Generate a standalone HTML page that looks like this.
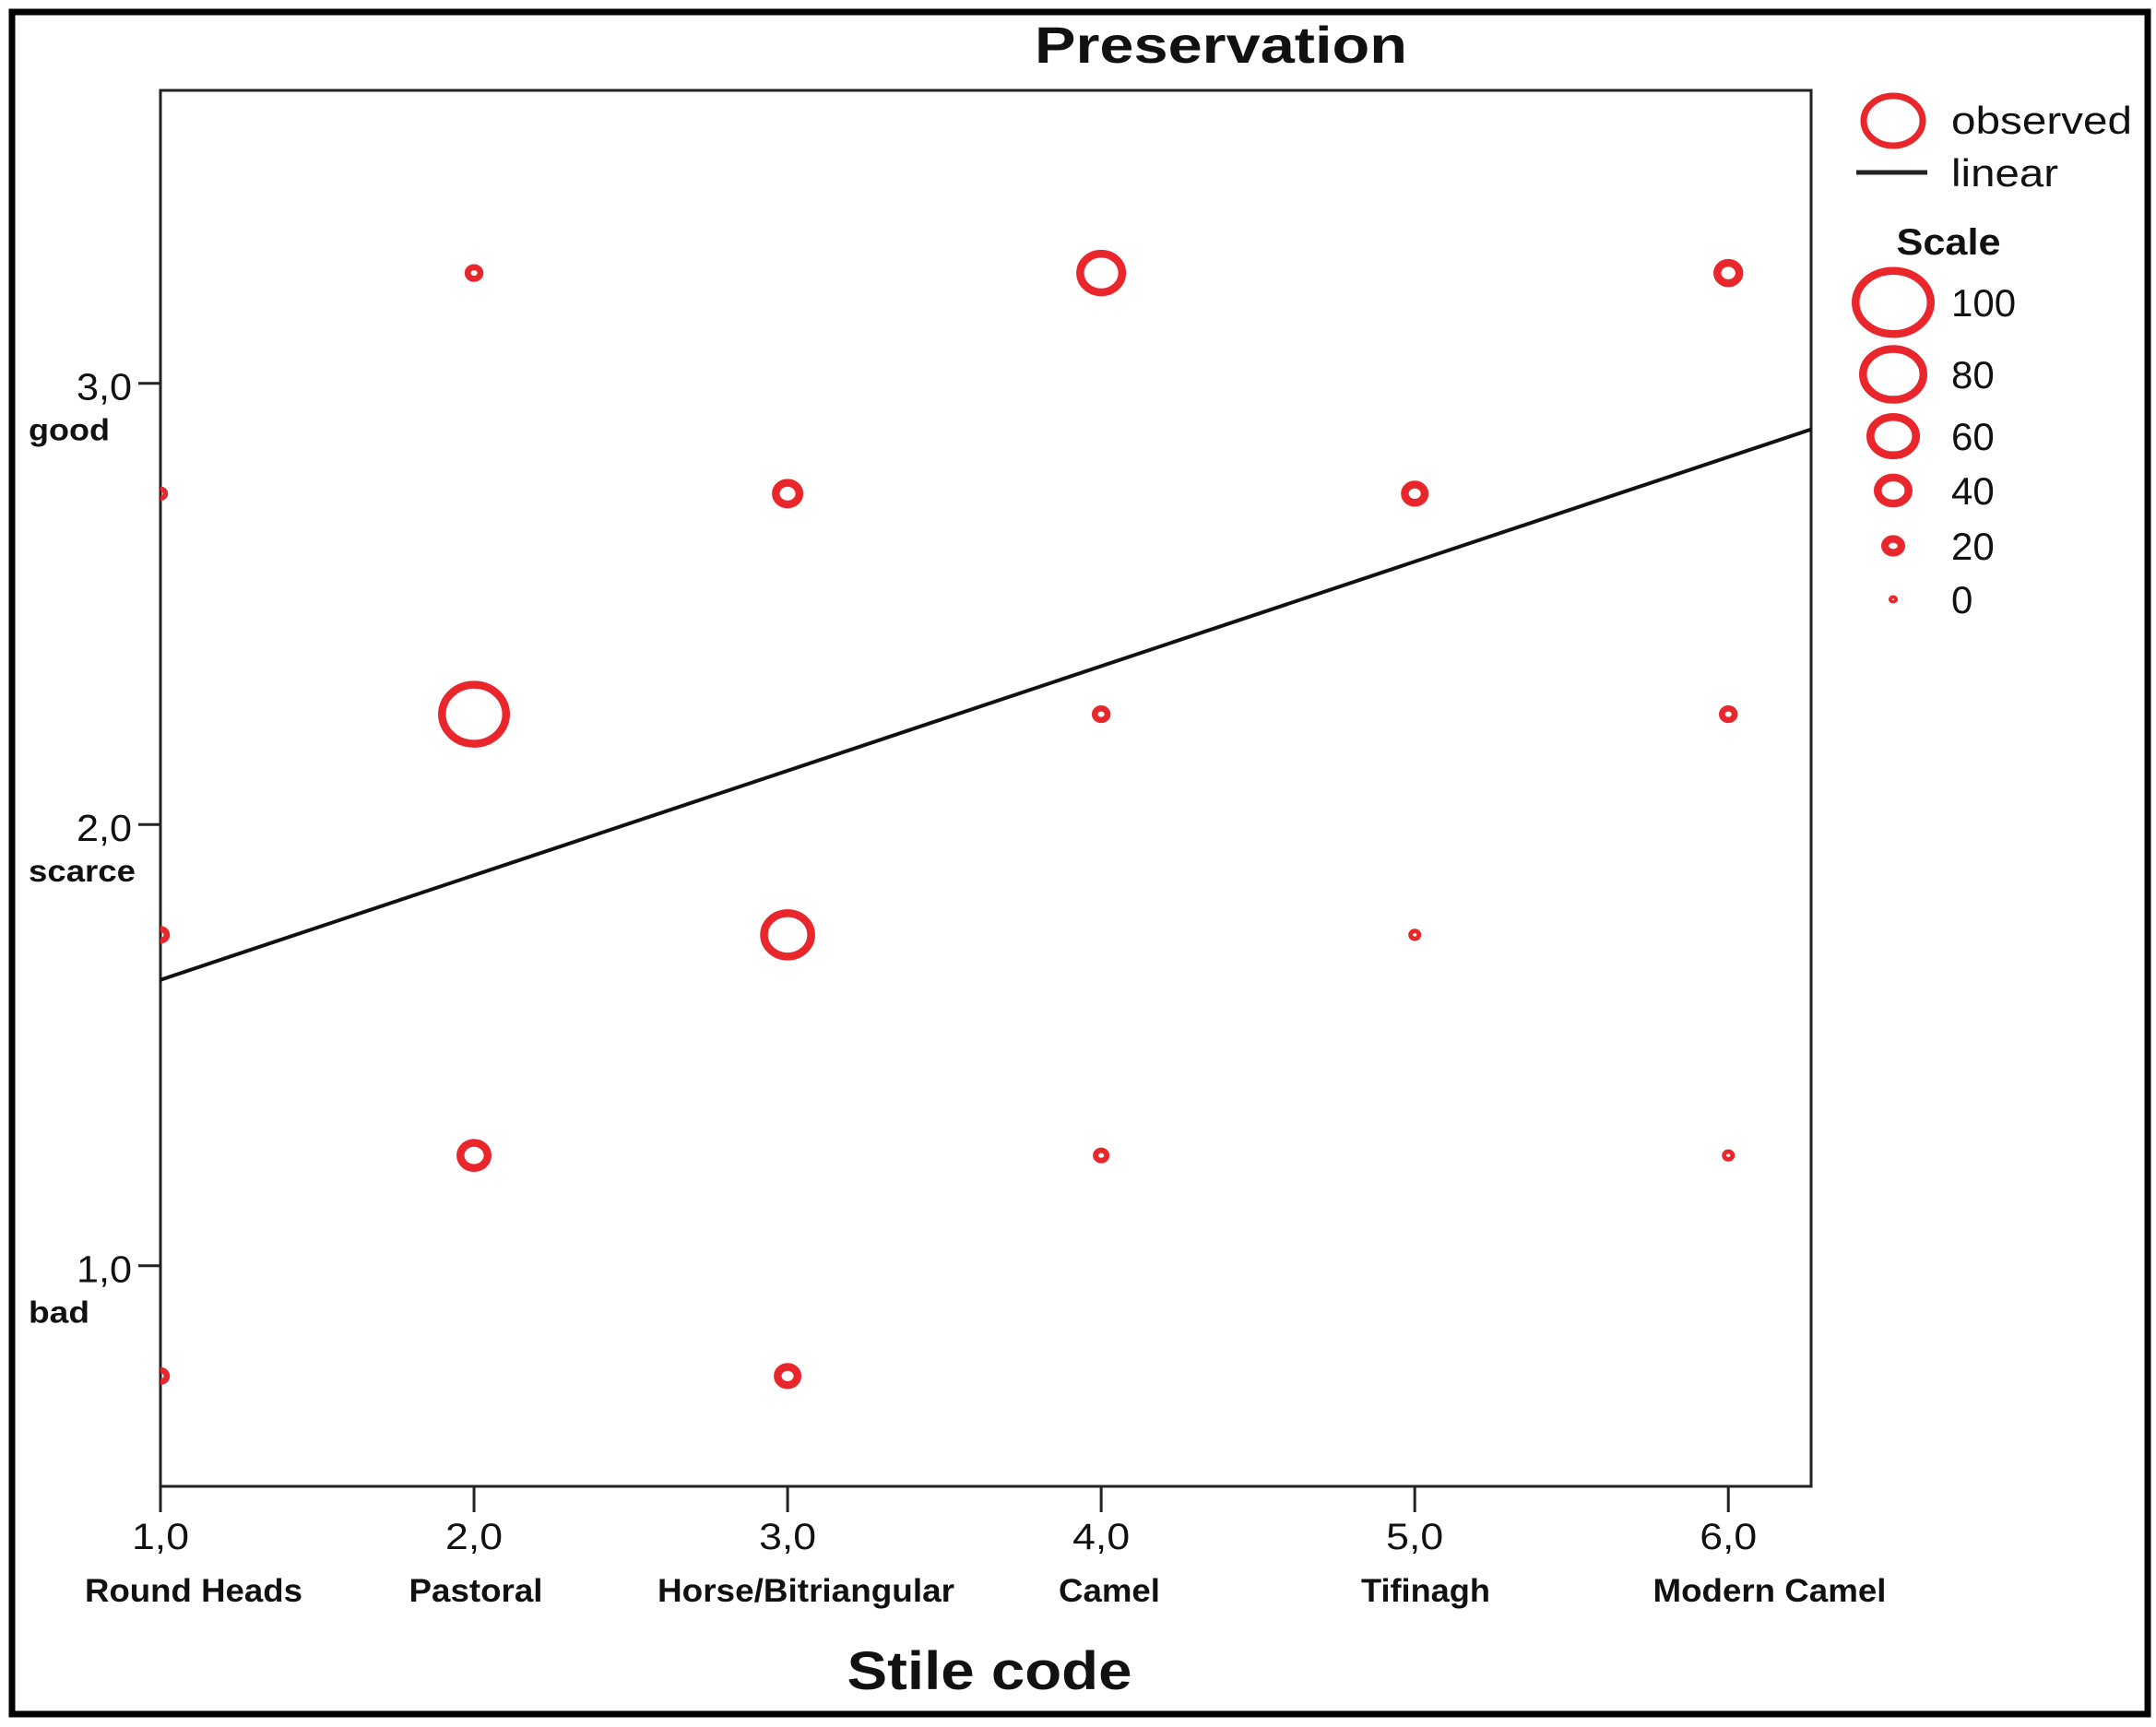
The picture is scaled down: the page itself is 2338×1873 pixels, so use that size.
<!DOCTYPE html>
<html><head><meta charset="utf-8"><style>
html,body{margin:0;padding:0;background:#fff}
svg{display:block}
text{font-family:"Liberation Sans","DejaVu Sans",sans-serif;fill:#111}
</style></head><body>
<svg id="chart" width="2338" height="1873" viewBox="0 0 2338 1873">
<rect x="13" y="13" width="2316" height="1846" fill="#fff" stroke="#000" stroke-width="7"/>
<text x="1324" y="68" font-size="56" font-weight="bold" text-anchor="middle" textLength="404" lengthAdjust="spacingAndGlyphs">Preservation</text>
<defs><clipPath id="plotclip"><rect x="174" y="98" width="1790" height="1514"/></clipPath></defs>
<rect x="174" y="98" width="1790" height="1514" fill="#fff" stroke="#222" stroke-width="3"/>
<g id="axes"></g>
<g id="marks" clip-path="url(#plotclip)"></g>
<g id="fit" clip-path="url(#plotclip)"></g>
<text x="1073" y="1832" font-size="58" font-weight="bold" text-anchor="middle" textLength="309" lengthAdjust="spacingAndGlyphs">Stile code</text>
<g id="legend">
<ellipse cx="2053" cy="131" rx="32" ry="27" fill="none" stroke="#e8262b" stroke-width="7"/>
<text x="2116" y="145" font-size="42" textLength="196" lengthAdjust="spacingAndGlyphs">observed</text>
<line x1="2013" y1="187" x2="2090" y2="187" stroke="#222" stroke-width="5"/>
<text x="2116" y="202" font-size="42" textLength="116" lengthAdjust="spacingAndGlyphs">linear</text>
<text x="2113" y="276" font-size="40" font-weight="bold" text-anchor="middle" textLength="113" lengthAdjust="spacingAndGlyphs">Scale</text>
</g>
</svg>
<script>
const categories = ["Round Heads","Pastoral","Horse/Bitriangular","Camel","Tifinagh","Modern Camel"];
const xTicks = [1,2,3,4,5,6];
const xTickLabels = ["1,0","2,0","3,0","4,0","5,0","6,0"];
const yTicks = [1,2,3];
const yTickLabels = ["1,0","2,0","3,0"];
const yCatLabels = ["bad","scarce","good"];
const pointX = [2,4,6, 1,3,5, 2,4,6, 1,3,5, 2,4,6, 1,3];
const pointY = [3.25,3.25,3.25, 2.75,2.75,2.75, 2.25,2.25,2.25, 1.75,1.75,1.75, 1.25,1.25,1.25, 0.75,0.75];
const pointCount = [13,55,28, 8,30,25, 85,13,13, 13,62,5, 35,10,5, 13,25];
const fitIntercept = [1.411];
const fitSlope = [0.237];
const scaleValues = [100,80,60,40,20,0];

const NS = "http://www.w3.org/2000/svg";
const X0=174, X1=1964, Y0=98, Y1=1612;
const xMin=1, xMax=6.264, yMin=0.5, yMax=3.664;
function xs(v){return X0+(v-xMin)/(xMax-xMin)*(X1-X0);}
function ys(v){return Y1-(v-yMin)/(yMax-yMin)*(Y1-Y0);}
function rOf(v){return 5+0.4*v;}
function swOf(r){return Math.min(8.5,0.55*r+1);}
function mk(tag, attrs, parent){const e=document.createElementNS(NS,tag);for(const k in attrs)e.setAttribute(k,attrs[k]);parent.appendChild(e);return e;}

const axes=document.getElementById('axes');
const catW=[236,145,322,110,140,253];
const catC=[210,516,874,1203,1546,1919];
xTicks.forEach((t,i)=>{
  const x=xs(t);
  const l=mk('line',{x1:x,y1:Y1,x2:x,y2:1640,stroke:'#222','stroke-width':3},axes);
  
  
  const tl=mk('text',{x:x,y:1680,'font-size':40,'text-anchor':'middle',fill:'#444',textLength:62,lengthAdjust:'spacingAndGlyphs'},axes);
  tl.textContent=xTickLabels[i];
  
  
  const cl=mk('text',{x:catC[i],y:1737,'font-size':35,'font-weight':'bold','text-anchor':'middle',fill:'#222',textLength:catW[i],lengthAdjust:'spacingAndGlyphs'},axes);
  cl.textContent=categories[i];
  
  
});
yTicks.forEach((t,i)=>{
  const y=ys(t);
  const l=mk('line',{x1:150,y1:y,x2:X0,y2:y,stroke:'#222','stroke-width':3},axes);
  
  
  const tl=mk('text',{x:143,y:y+18,'font-size':41,'text-anchor':'end',fill:'#444',textLength:60,lengthAdjust:'spacingAndGlyphs'},axes);
  tl.textContent=yTickLabels[i];
  
  
  const cl=mk('text',{x:31,y:y+62,'font-size':33,'font-weight':'bold',fill:'#222',textLength:[66,116,88][i],lengthAdjust:'spacingAndGlyphs'},axes);
  cl.textContent=yCatLabels[i];
  
  
});

const marks=document.getElementById('marks');
pointX.forEach((px,i)=>{
  const r=rOf(pointCount[i]);
  const sw=swOf(r);
  const c=mk('ellipse',{cx:xs(px),cy:ys(pointY[i]),rx:r-sw/2,ry:(r-sw/2)*0.92,fill:'none',stroke:'#e8262b','stroke-width':sw},marks);
  
  
});

const fit=document.getElementById('fit');
const fl=mk('line',{x1:xs(xMin),y1:ys(fitIntercept[0]+fitSlope[0]*xMin),x2:xs(xMax),y2:ys(fitIntercept[0]+fitSlope[0]*xMax),stroke:'#111','stroke-width':4},fit);



const legend=document.getElementById('legend');
const legY=[328,406,473,532,592,650];
scaleValues.forEach((v,i)=>{
  const r=rOf(v);
  const sw=swOf(r);
  const e=mk('ellipse',{cx:2053,cy:legY[i],rx:r-sw/2,ry:(r-sw/2)*0.84,fill:'none',stroke:'#e8262b','stroke-width':sw},legend);
  
  
  const t=mk('text',{x:2116,y:legY[i]+15,'font-size':42,fill:'#333'},legend);
  t.textContent=String(v);
  
  
});
</script>
</body></html>
